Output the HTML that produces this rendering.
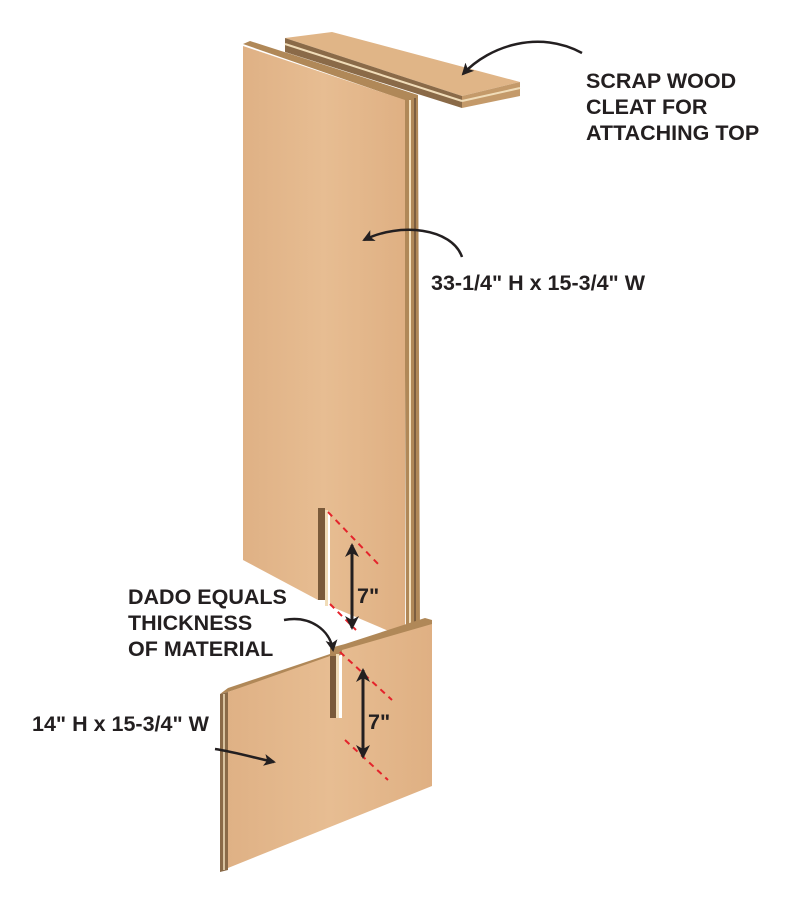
<!DOCTYPE html>
<html><head><meta charset="utf-8"><style>
html,body{margin:0;padding:0;background:#fff;}
svg{display:block;}
text{font-family:"Liberation Sans",Arial,sans-serif;font-weight:bold;fill:#231f20;font-size:21.5px;}
</style></head><body>
<svg width="800" height="908" viewBox="0 0 800 908" xmlns="http://www.w3.org/2000/svg">
<defs>
<linearGradient id="wood" x1="0" y1="0" x2="1" y2="0">
<stop offset="0" stop-color="#dfb185"/><stop offset="0.5" stop-color="#e7bd92"/><stop offset="1" stop-color="#dfb083"/>
</linearGradient>
<marker id="ah" markerWidth="12" markerHeight="12" refX="10" refY="6" orient="auto" markerUnits="userSpaceOnUse">
<path d="M0,0 L12,6 L0,12 L3,6 Z" fill="#231f20"/></marker>
<marker id="ah2" markerWidth="14" markerHeight="14" refX="12" refY="7" orient="auto-start-reverse" markerUnits="userSpaceOnUse">
<path d="M0,0 L14,7 L0,14 L4,7 Z" fill="#231f20"/></marker>
</defs>
<!-- cleat -->
<polygon points="285,38 332,32 520,82 462,96" fill="#e0b587"/>
<polygon points="285,38 462,96 462,108 285,52" fill="#8a6a48"/>
<polygon points="462,96 520,82 520,96 462,108" fill="#c49a6a"/>
<line x1="285" y1="44" x2="462" y2="101" stroke="#f0dcb8" stroke-width="2"/>
<line x1="462" y1="101" x2="520" y2="88" stroke="#f0dcb8" stroke-width="2"/>
<!-- tall panel edge -->
<polygon points="243,44 250,41 418,95 420,640 406,640 404,100" fill="#b08858"/>
<line x1="410" y1="100" x2="410" y2="640" stroke="#f2dfbc" stroke-width="2"/>
<line x1="415" y1="98" x2="415" y2="640" stroke="#6a5038" stroke-width="1.5"/>
<!-- tall panel face -->
<polygon points="243,46 405,100 405,638 330,606 330,512 318,508 318,600 243,560" fill="url(#wood)"/>
<rect x="318" y="508" width="7" height="92" fill="#7a5a3a"/>
<rect x="325" y="510" width="3" height="96" fill="#f0dcb8"/>
<!-- lower panel -->
<polygon points="220,694 228,688 330,654 330,648 345,644 425,618 432,620 432,625 228,692" fill="#b08858"/>
<polygon points="220,694 228,692 228,870 220,872" fill="#8a6a48"/>
<line x1="224" y1="694" x2="224" y2="870" stroke="#f2dfbc" stroke-width="1.5"/>
<polygon points="228,692 330,656 330,718 342,718 342,650 432,624 432,786 228,868" fill="url(#wood)"/>
<rect x="330" y="656" width="6" height="62" fill="#7a5a3a"/>
<rect x="336" y="654" width="3" height="64" fill="#f0dcb8"/>
<!-- red dashed -->
<g stroke="#e4232b" stroke-width="2" stroke-dasharray="6,5" fill="none">
<line x1="328" y1="512" x2="380" y2="566"/>
<line x1="330" y1="604" x2="356" y2="630"/>
<line x1="340" y1="652" x2="392" y2="700"/>
<line x1="345" y1="740" x2="388" y2="780"/>
</g>
<!-- dimension arrows -->
<line x1="352" y1="545" x2="352" y2="628" stroke="#231f20" stroke-width="3" marker-start="url(#ah2)" marker-end="url(#ah2)"/>
<line x1="363" y1="670" x2="363" y2="757" stroke="#231f20" stroke-width="3" marker-start="url(#ah2)" marker-end="url(#ah2)"/>
<text x="357" y="603" font-size="22">7"</text>
<text x="368" y="729" font-size="22">7"</text>
<!-- callout arrows -->
<g stroke="#231f20" stroke-width="2.5" fill="none">
<path d="M582,53 C540,30 490,45 463,74" marker-end="url(#ah)"/>
<path d="M462,257 C452,228 400,222 364,240" marker-end="url(#ah)"/>
<path d="M284,620 C310,615 330,630 333,650" marker-end="url(#ah)"/>
<path d="M215,749 C235,752 255,758 274,762" marker-end="url(#ah)"/>
</g>
<text x="586" y="88">SCRAP WOOD</text>
<text x="586" y="114">CLEAT FOR</text>
<text x="586" y="140">ATTACHING TOP</text>
<text x="431" y="290">33-1/4" H x 15-3/4" W</text>
<text x="128" y="604">DADO EQUALS</text>
<text x="128" y="630">THICKNESS</text>
<text x="128" y="656">OF MATERIAL</text>
<text x="32" y="731">14" H x 15-3/4" W</text>
</svg>
</body></html>
